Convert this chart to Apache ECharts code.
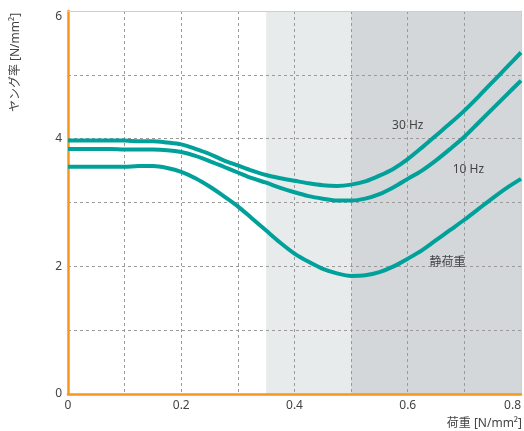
<!DOCTYPE html>
<html><head><meta charset="utf-8">
<script src="https://cdn.jsdelivr.net/npm/echarts@6/dist/echarts.min.js"></script>
<style>html,body{margin:0;padding:0;background:#fff}#c{width:524px;height:431px}</style>
</head><body><div id="c"></div>
<script>
// Data
const loads      = [0, 0.025, 0.05, 0.075, 0.1, 0.125, 0.15, 0.175, 0.2, 0.225, 0.25, 0.275, 0.3, 0.325, 0.35, 0.375, 0.4,
                    0.425, 0.45, 0.475, 0.5, 0.525, 0.55, 0.575, 0.6, 0.625, 0.65, 0.675, 0.7, 0.725, 0.75, 0.775, 0.8];
const hz30       = [3.97, 3.97, 3.97, 3.97, 3.97, 3.96, 3.96, 3.94, 3.91, 3.84, 3.76, 3.66, 3.58, 3.50, 3.43, 3.38, 3.34,
                    3.30, 3.27, 3.26, 3.28, 3.33, 3.42, 3.53, 3.68, 3.86, 4.05, 4.24, 4.44, 4.66, 4.89, 5.12, 5.35];
const hz10       = [3.84, 3.84, 3.84, 3.84, 3.83, 3.83, 3.83, 3.82, 3.79, 3.73, 3.65, 3.56, 3.47, 3.38, 3.31, 3.23, 3.16,
                    3.10, 3.06, 3.03, 3.03, 3.06, 3.13, 3.24, 3.37, 3.50, 3.66, 3.84, 4.03, 4.25, 4.47, 4.69, 4.91];
const staticLoad = [3.56, 3.56, 3.56, 3.56, 3.56, 3.57, 3.57, 3.54, 3.48, 3.38, 3.25, 3.10, 2.94, 2.75, 2.56, 2.37, 2.20,
                    2.07, 1.96, 1.89, 1.85, 1.86, 1.91, 2.00, 2.12, 2.25, 2.41, 2.57, 2.73, 2.90, 3.07, 3.23, 3.37];
const seriesNames = ['30 Hz', '10 Hz', '静荷重'];
const labelX = [0.600, 0.707, 0.670];
const labelY = [4.21, 3.52, 2.06];
const bandEdges = [0.35, 0.5, 0.8];
const xTickLabels = ['0', '0.2', '0.4', '0.6', '0.8'];
const yTickLabels = ['0', '', '2', '', '4', '', '6'];
const xName = '荷重 [N/mm²]';
const yName = 'ヤング率 [N/mm²]';

const TEAL = '#00a19a';
const ORANGE = '#f7961e';
const LIGHT_ORANGE = '#f6c890';
const FONT = "'Noto Sans', 'Noto Sans CJK JP', sans-serif";
const gridLine = { show: true, showMinLine: false, showMaxLine: false, lineStyle: { color: '#9a9a9a', type: [3, 3], width: 1 } };

const chart = echarts.init(document.getElementById('c'), null, { renderer: 'canvas' });
const allSeries = [hz30, hz10, staticLoad];

const lineSeries = allSeries.map((vals, k) => ({
  type: 'line',
  name: seriesNames[k],
  z: 10,
  smooth: 0.3,
  showSymbol: false,
  silent: true,
  data: loads.map((x, i) => [x, vals[i]]),
  lineStyle: { color: TEAL, width: 4 },
  itemStyle: { color: TEAL },
  markPoint: {
    symbol: 'circle', symbolSize: 0, silent: true,
    label: { show: true, position: 'inside', formatter: seriesNames[k], color: '#444', fontSize: 12, fontFamily: FONT },
    data: [{ coord: [labelX[k], labelY[k]] }]
  }
}));

chart.setOption({
  animation: false,
  textStyle: { fontFamily: FONT },
  grid: { left: 68, right: 2, top: 11, bottom: 37, containLabel: false },
  xAxis: [{
    type: 'value', min: 0, max: 0.8, interval: 0.1, position: 'bottom', z: 5,
    axisLine: { show: true, onZero: false, lineStyle: { color: ORANGE, width: 2.5 } },
    axisTick: { show: false },
    axisLabel: {
      color: '#444', fontSize: 12, margin: 6, fontFamily: FONT, alignMaxLabel: 'right',
      formatter: v => { const i = Math.round(v * 10); return i % 2 === 0 ? xTickLabels[i / 2] : ''; }
    },
    splitLine: gridLine
  }, {
    type: 'value', min: 0, max: 0.8, position: 'top', z: 5,
    axisLine: { show: true, onZero: false, lineStyle: { color: LIGHT_ORANGE, width: 1 } },
    axisTick: { show: false }, axisLabel: { show: false }, splitLine: { show: false }
  }],
  yAxis: [{
    type: 'value', min: 0, max: 6, interval: 1, position: 'left', z: 5,
    axisLine: { show: true, onZero: false, lineStyle: { color: ORANGE, width: 2.5 } },
    axisTick: { show: false },
    axisLabel: {
      color: '#444', fontSize: 12, margin: 6, fontFamily: FONT, verticalAlignMaxLabel: 'top',
      formatter: v => yTickLabels[Math.round(v)]
    },
    splitLine: gridLine
  }, {
    type: 'value', min: 0, max: 6, position: 'right', z: 5,
    axisLine: { show: true, onZero: false, lineStyle: { color: LIGHT_ORANGE, width: 1 } },
    axisTick: { show: false }, axisLabel: { show: false }, splitLine: { show: false }
  }],
  graphic: [
    { type: 'text', z: 20, x: 522, y: 424, style: { text: xName, align: 'right', verticalAlign: 'middle', fill: '#444', font: "12px " + FONT } },
    { type: 'text', z: 20, x: 15.5, y: 62.5, rotation: Math.PI / 2, style: { text: yName, align: 'center', verticalAlign: 'middle', fill: '#444', font: "12px " + FONT } }
  ],
  series: [{
    type: 'line', z: 1, silent: true, showSymbol: false,
    data: [[bandEdges[0], 0], [bandEdges[2], 0]],
    lineStyle: { opacity: 0 },
    markArea: {
      silent: true,
      data: [
        [{ xAxis: bandEdges[0], itemStyle: { color: '#e8ebeb' } }, { xAxis: bandEdges[1] }],
        [{ xAxis: bandEdges[1], itemStyle: { color: '#d3d7d9' } }, { xAxis: bandEdges[2] }]
      ]
    }
  }].concat(lineSeries)
});
</script>
</body></html>
